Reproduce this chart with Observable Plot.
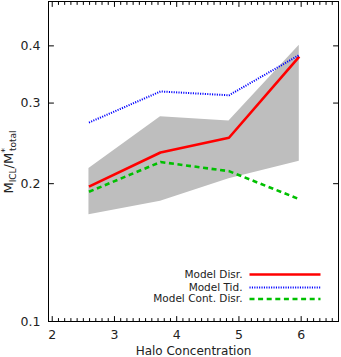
<!DOCTYPE html>
<html><head><meta charset="utf-8">
<script src="https://cdn.jsdelivr.net/npm/d3@7"></script>
<script src="https://cdn.jsdelivr.net/npm/@observablehq/plot@0.6"></script>
<style>body{margin:0;background:#fff}</style>
</head><body><div id="chart"></div>
<script>
// ---- data ----
const concentration = [2.59, 3.74, 4.84, 5.97];
const modelDisr     = [0.197, 0.234, 0.252, 0.379];
const modelTid      = [0.272, 0.318, 0.312, 0.382];
const modelCont     = [0.192, 0.223, 0.213, 0.185];
const bandLow       = [0.171, 0.183, 0.205, 0.224];
const bandHigh      = [0.216, 0.280, 0.274, 0.401];
const xTicks = [2, 3, 4, 5, 6];
const yTicks = [0.1, 0.2, 0.3, 0.4];
const legendLabels = ["Model Disr.", "Model Tid.", "Model Cont. Disr."];

// ---- derived tables ----
const band = concentration.map((c, i) => ({c, lo: bandLow[i], hi: bandHigh[i]}));
const toRows = (vals) => concentration.map((c, i) => ({c, v: vals[i]}));
const xMinor = d3.range(20, 67).filter(i => i % 10 !== 0).map(i => i / 10);

const lineShape = {draw(ctx, l) { ctx.moveTo(0, 0); ctx.lineTo(0, -l); }};
const tick = (data, channel, anchor, rotate, len) =>
  Plot.vector(data, {[channel]: d => d, frameAnchor: anchor, rotate, length: len,
    anchor: "start", shape: lineShape, stroke: "#000", strokeWidth: 1});

const styles = [
  {stroke: "#ff0000", strokeWidth: 2.6, strokeLinecap: "butt"},
  {stroke: "#0000ff", strokeWidth: 2, strokeDasharray: "1.1,1.3", strokeLinecap: "butt"},
  {stroke: "#00c000", strokeWidth: 2.6, strokeDasharray: "5,3.6", strokeLinecap: "butt"}
];
const seriesVals = [modelDisr, modelTid, modelCont];
const legendDy = [-47, -34, -22.5];

const marks = [
  Plot.areaY(band, {x: "c", y1: "lo", y2: "hi", fill: "#bebebe"}),
  ...seriesVals.map((vals, i) => Plot.line(toRows(vals), {x: "c", y: "v", ...styles[i]})),
  Plot.frame({stroke: "#000", strokeWidth: 1}),
  tick(xTicks, "x", "bottom", 0, 5),
  tick(xMinor, "x", "bottom", 0, 3),
  tick(xTicks, "x", "top", 180, 5),
  tick(xMinor, "x", "top", 180, 3),
  tick(yTicks, "y", "left", 90, 5),
  tick(yTicks, "y", "right", -90, 5),
  Plot.axisX(xTicks, {anchor: "bottom", tickSize: 0, tickPadding: 9, label: null, fontSize: 12.5}),
  Plot.axisY(yTicks, {anchor: "left", tickSize: 0, tickPadding: 8, label: null, fontSize: 12.5,
    tickFormat: d => d.toFixed(1)}),
  Plot.text(["Halo Concentration"], {frameAnchor: "bottom", dy: 30, lineAnchor: "middle",
    fontSize: 12, fill: "#222"}),
  ...legendLabels.map((lab, i) => Plot.text([lab], {frameAnchor: "bottom-right", dx: -96,
    dy: legendDy[i], textAnchor: "end", lineAnchor: "middle", fontSize: 10.5, fill: "#222"})),
  ...legendLabels.map((lab, i) => Plot.vector([lab], {frameAnchor: "bottom-right", dx: -89,
    dy: legendDy[i], rotate: 90, length: 71, anchor: "start", shape: lineShape, ...styles[i]}))
];

const plot = Plot.plot({
  width: 341, height: 357,
  marginLeft: 48, marginRight: 3, marginTop: 1, marginBottom: 36,
  style: {fontFamily: "DejaVu Sans", fontSize: "12px", color: "#222", background: "#fff"},
  x: {domain: [1.94, 6.6]},
  y: {type: "log", domain: [0.1, 0.5]},
  marks
});

// y-axis title with sub/superscripts
const svg = d3.select(plot);
const t = svg.append("text")
  .attr("transform", "translate(12.5,162) rotate(-90)")
  .attr("text-anchor", "middle")
  .attr("font-family", "DejaVu Sans")
  .attr("font-size", 13)
  .attr("fill", "#222");
t.append("tspan").text("M");
t.append("tspan").attr("font-size", 9).attr("dy", 3).text("ICL");
t.append("tspan").attr("dy", -3).text("/M");
t.append("tspan").attr("font-size", 9.5).attr("dy", -5).text("*");
t.append("tspan").attr("font-size", 9).attr("dy", 8).attr("dx", -3).text("total");

document.getElementById("chart").appendChild(plot);
</script>
</body></html>
